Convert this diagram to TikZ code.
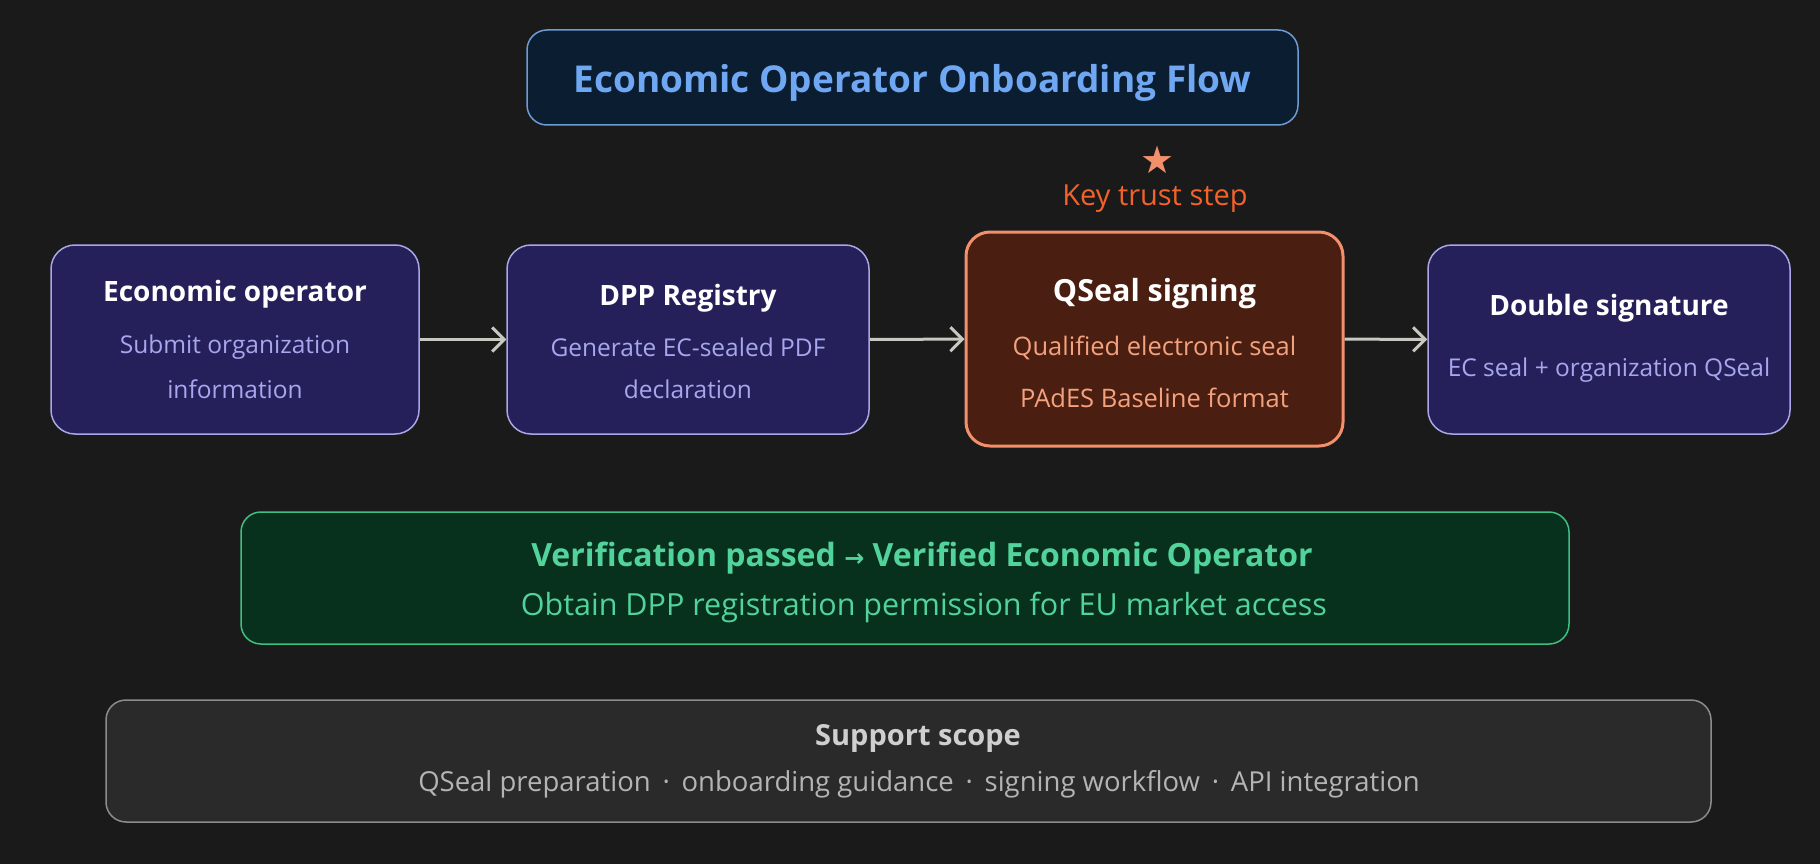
\documentclass[tikz,border=0pt]{standalone}
\usepackage{fontspec}
\setmainfont{Open Sans}
\newfontfamily\symfont{DejaVu Sans}
\usetikzlibrary{arrows.meta,positioning}

\definecolor{bgdark}{HTML}{1A1A1A}
\definecolor{titlefill}{HTML}{0B1D31}
\definecolor{titleline}{HTML}{6D9BD6}
\definecolor{titletext}{HTML}{6FA7F2}
\definecolor{stepfill}{HTML}{25205A}
\definecolor{stepline}{HTML}{A9A6E6}
\definecolor{stepsub}{HTML}{A7A6EE}
\definecolor{keyfill}{HTML}{4A1E10}
\definecolor{keyline}{HTML}{F2906C}
\definecolor{keysub}{HTML}{F4A27E}
\definecolor{keytext}{HTML}{F2622A}
\definecolor{okfill}{HTML}{07301D}
\definecolor{okline}{HTML}{3FBF82}
\definecolor{oktext}{HTML}{52D39C}
\definecolor{scopefill}{HTML}{2A2A2A}
\definecolor{scopeline}{HTML}{8C8C8C}
\definecolor{scopehead}{HTML}{CFCFCF}
\definecolor{scopetext}{HTML}{B4B4B4}
\definecolor{flowline}{HTML}{C9C8C0}

\begin{document}
\begin{tikzpicture}[x=1pt,y=-1pt,
    box/.style={draw, rounded corners=24pt, line width=1.5pt, inner sep=0pt},
    stepbox/.style={box, fill=stepfill, draw=stepline, minimum width=364pt, minimum height=189pt},
    head/.style={font=\fontsize{28}{34}\selectfont\bfseries, text=white},
    sub/.style={font=\fontsize{24.5}{30}\selectfont, text=stepsub},
    flow/.style={draw=flowline, line width=3pt, -{Straight Barb[length=12pt,width=24pt,line width=3pt]}}]
    \fill[bgdark] (0,0) rectangle (1820,864);
    \useasboundingbox (0,0) rectangle (1820,864);

    % title
    \node[box, fill=titlefill, draw=titleline, minimum width=771pt, minimum height=95pt, rounded corners=20pt] (title) at (912.5,77.5) {};
    \node[font=\fontsize{37}{44}\selectfont\bfseries, text=titletext] (titletxt) at (912.5,83) {Economic Operator Onboarding Flow};

    % marker above the key step
    \node[font=\fontsize{38}{38}\selectfont\symfont, text=keyline, inner sep=0pt, text depth=0pt] (star) at (1158,160) {★};
    \node[font=\fontsize{29}{34}\selectfont, text=keytext, inner sep=0pt] (keytxt) at (1155,199) {Key trust step};

    % steps
    \node[stepbox, minimum width=368pt] (operator) at (235,339.5) {};
    \node[head] (operatorhead) at (235,294.5) {Economic operator};
    \node[sub] (operatorsub1) at (235,347.5) {Submit organization};
    \node[sub] (operatorsub2) at (235,389.5) {information};

    \node[stepbox, minimum width=362pt] (registry) at (688,339.5) {};
    \node[head] (registryhead) at (688,298) {DPP Registry};
    \node[sub] (registrysub1) at (688,347.5) {Generate EC-sealed PDF};
    \node[sub] (registrysub2) at (688,389.5) {declaration};

    \node[box, fill=keyfill, draw=keyline, line width=3pt, minimum width=377pt, minimum height=214pt] (qseal) at (1154.5,339) {};
    \node[head, font=\fontsize{30.5}{36}\selectfont\bfseries] (qsealhead) at (1154.5,294) {QSeal signing};
    \node[sub, text=keysub, font=\fontsize{25.5}{30}\selectfont] (qsealsub1) at (1154.5,347.5) {Qualified electronic seal};
    \node[sub, text=keysub, font=\fontsize{25.5}{30}\selectfont] (qsealsub2) at (1154.5,397.5) {PAdES Baseline format};

    \node[stepbox, minimum width=362pt] (double) at (1609,339.5) {};
    \node[head] (doublehead) at (1609,308.5) {Double signature};
    \node[sub] (doublesub) at (1609,370.5) {EC seal + organization QSeal};

    \draw[flow] (operator) -- (registry);
    \draw[flow] (registry) -- (qseal);
    \draw[flow] (qseal) -- (double);

    % result
    \node[box, fill=okfill, draw=okline, minimum width=1328pt, minimum height=132pt, rounded corners=20pt] (verified) at (905,578) {};
    \node[font=\fontsize{32}{38}\selectfont\bfseries, text=oktext] (verifiedhead) at (922,558) {Verification passed {\symfont\fontsize{24}{28}\selectfont→} Verified Economic Operator};
    \node[font=\fontsize{30.5}{36}\selectfont, text=oktext] (verifiedsub) at (924,607.5) {Obtain DPP registration permission for EU market access};

    % support
    \node[box, fill=scopefill, draw=scopeline, minimum width=1605pt, minimum height=122pt, rounded corners=20pt] (scope) at (908.5,761) {};
    \node[font=\fontsize{29}{34}\selectfont\bfseries, text=scopehead] (scopehead) at (918,738.5) {Support scope};
    \node[font=\fontsize{27.5}{32}\selectfont, text=scopetext] (scopetxt) at (919,784) {QSeal preparation \,·\, onboarding guidance \,·\, signing workflow \,·\, API integration};
\end{tikzpicture}
\end{document}
